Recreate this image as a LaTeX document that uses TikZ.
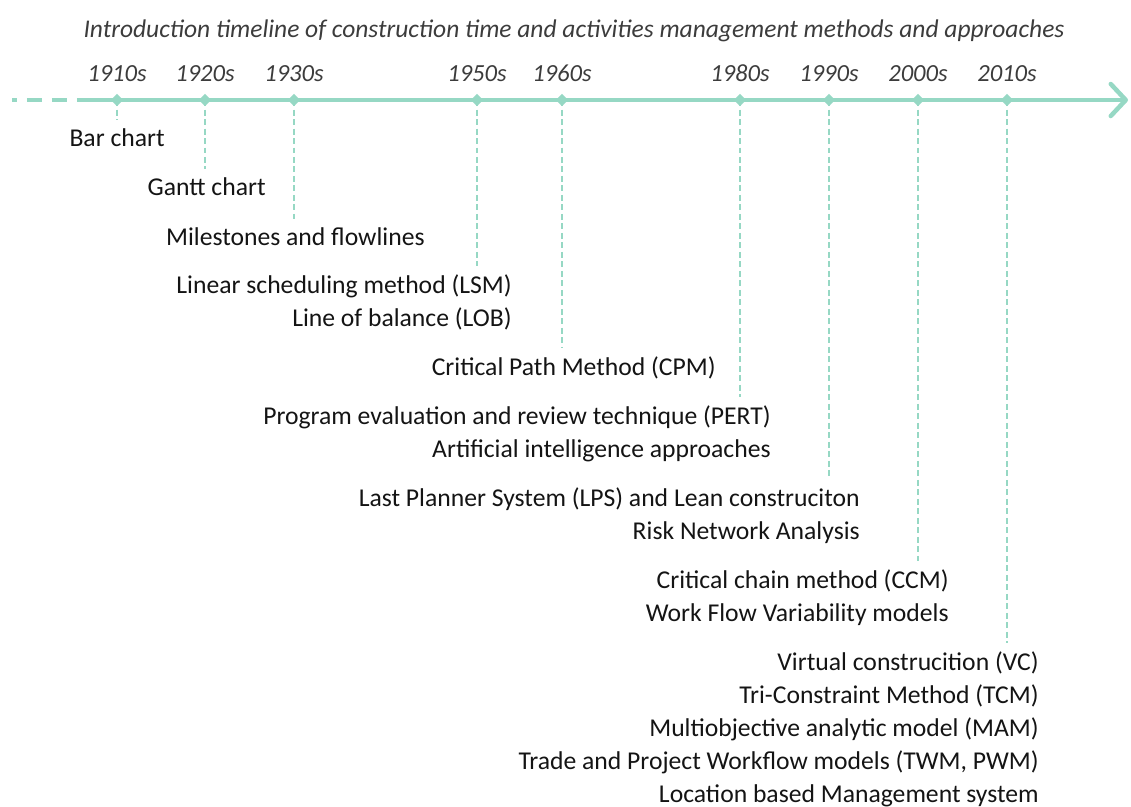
\documentclass[tikz,border=0pt]{standalone}
\usepackage{fontspec}
\setmainfont{Carlito}
\usepackage{xcolor}
\usepackage{tikz}
\usetikzlibrary{arrows.meta,shapes.geometric}

\definecolor{mint}{RGB}{150,216,196}
\definecolor{yeargray}{RGB}{60,60,60}

\begin{document}
\begin{tikzpicture}[x=0.02cm,y=-0.02cm,
    timeline/.style={mint,line width=0.09cm},
    dot/.style={diamond,fill=mint,inner sep=0pt,minimum size=0.25cm},
    year/.style={anchor=base,inner sep=0pt,text=yeargray,font=\fontsize{14}{16}\selectfont\itshape},
    method/.style={anchor=base east,inner sep=0pt,text=black!92,font=\fontsize{14.6}{17}\selectfont},
    guide/.style={mint,line width=0.04cm,dash pattern=on 0.12cm off 0.07cm,shorten >=0.16cm}]
        \useasboundingbox (0,0) rectangle (1131,806);

        %TITLE
        \node[year,font=\fontsize{14.5}{16}\selectfont\itshape] (title) at (574,37){Introduction timeline of construction time and activities management methods and approaches};

        %AXIS
        \coordinate (tstart) at (12,100);
        \coordinate (tsolid) at (83,100);
        \coordinate (tend) at (1128,100);
        \draw[timeline,dash pattern=on 0.3cm off 0.2cm,dash phase=0.2cm] (tstart) -- (tsolid);
        \draw[timeline,-{Straight Barb[length=0.3cm,width=0.64cm,round]}] (tsolid) -- (tend);

        %DOTS
        \node[dot] (d1910) at (117,100){};
        \node[dot] (d1920) at (205,100){};
        \node[dot] (d1930) at (294,100){};
        \node[dot] (d1950) at (477,100){};
        \node[dot] (d1960) at (562,100){};
        \node[dot] (d1980) at (740,100){};
        \node[dot] (d1990) at (829,100){};
        \node[dot] (d2000) at (918,100){};
        \node[dot] (d2010) at (1007,100){};

        %YEARS
        \node[year] (y1910) at (117,81){1910s};
        \node[year] (y1920) at (205,81){1920s};
        \node[year] (y1930) at (294,81){1930s};
        \node[year] (y1950) at (477,81){1950s};
        \node[year] (y1960) at (562,81){1960s};
        \node[year] (y1980) at (740,81){1980s};
        \node[year] (y1990) at (829,81){1990s};
        \node[year] (y2000) at (918,81){2000s};
        \node[year] (y2010) at (1007,81){2010s};

        %METHODS
        \node[method] (bar) at (165,146){Bar chart};
        \node[method] (gantt) at (266,195){Gantt chart};
        \node[method] (mile) at (425,245){Milestones and flowlines};
        \node[method] (lsm) at (512,293){Linear scheduling method (LSM)};
        \node[method] (lob) at (512,326){Line of balance (LOB)};
        \node[method] (cpm) at (716,375){Critical Path Method (CPM)};
        \node[method] (pert) at (771,424){Program evaluation and review technique (PERT)};
        \node[method] (ai) at (771,457){Artificial intelligence approaches};
        \node[method] (lps) at (860,506){Last Planner System (LPS) and Lean construciton};
        \node[method] (risk) at (860,539){Risk Network Analysis};
        \node[method] (ccm) at (949,588){Critical chain method (CCM)};
        \node[method] (wfv) at (949,621){Work Flow Variability models};
        \node[method] (vc) at (1039,670){Virtual construcition (VC)};
        \node[method] (tcm) at (1039,703){Tri-Constraint Method (TCM)};
        \node[method] (mam) at (1039,736){Multiobjective analytic model (MAM)};
        \node[method] (twm) at (1039,769){Trade and Project Workflow models (TWM, PWM)};
        \node[method] (lbms) at (1039,802){Location based Management system};

        %GUIDES
        \draw[guide] (d1910.center) -- (d1910 |- bar.north);
        \draw[guide] (d1920.center) -- (d1920 |- gantt.north);
        \draw[guide] (d1930.center) -- (d1930 |- mile.north);
        \draw[guide] (d1950.center) -- (d1950 |- lsm.north);
        \draw[guide] (d1960.center) -- (d1960 |- cpm.north);
        \draw[guide] (d1980.center) -- (d1980 |- pert.north);
        \draw[guide] (d1990.center) -- (d1990 |- lps.north);
        \draw[guide] (d2000.center) -- (d2000 |- ccm.north);
        \draw[guide] (d2010.center) -- (d2010 |- vc.north);
    \end{tikzpicture}
\end{document}
